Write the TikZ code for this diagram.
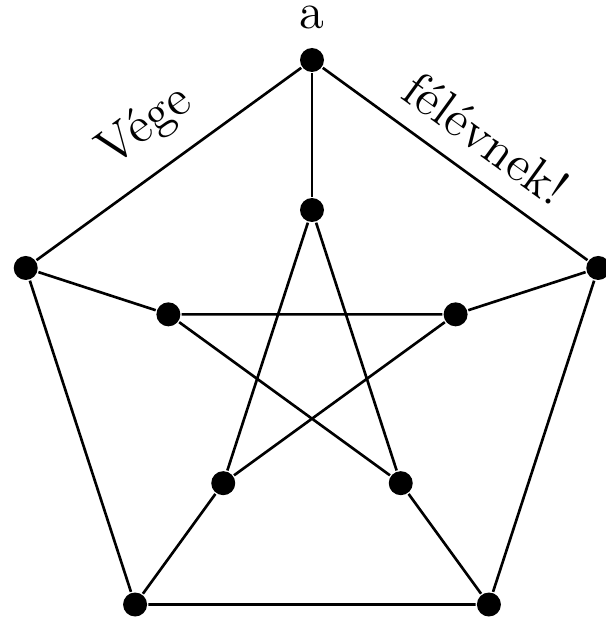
\documentclass[tikz,border=0pt]{standalone}
\usepackage{tikz}
\usetikzlibrary{positioning,calc}
\tikzset{every picture/.style={line width=0.75pt}}
\tikzset{
  csucs/.style={circle, fill=black, inner sep=0pt, minimum size=0.24cm},
  felirat/.style={font=\Large}
}

\begin{document}
\begin{tikzpicture}
    \useasboundingbox (0,0) rectangle (6.06,6.23);
    \coordinate (c) at (3.12,2.62);

    % külső ötszög csúcsai
    \foreach \i in {1,...,5}
        \node[csucs] (o\i) at ($(c)+({90+72*(\i-1)}:3.01)$) {};
    % belső csúcsok
    \foreach \i in {1,...,5}
        \node[csucs] (b\i) at ($(c)+({90+72*(\i-1)}:1.51)$) {};

    % külső kör
    \draw (o1) -- (o2) -- (o3) -- (o4) -- (o5) -- (o1);
    % küllők
    \foreach \i in {1,...,5}
        \draw (o\i) -- (b\i);
    % belső csillag
    \draw (b1) -- (b3) -- (b5) -- (b2) -- (b4) -- (b1);

    % feliratok
    \node[felirat, inner sep=0pt, above=0.16cm of o1] (a) {a};
    \path (o2) -- (o1) node[felirat, midway, sloped, above=0.08cm, xshift=0.03cm] (vege) {Vége};
    \path (o1) -- (o5) node[felirat, midway, sloped, above=0.08cm, xshift=0.1cm] (felevnek) {félévnek!};
\end{tikzpicture}
\end{document}
